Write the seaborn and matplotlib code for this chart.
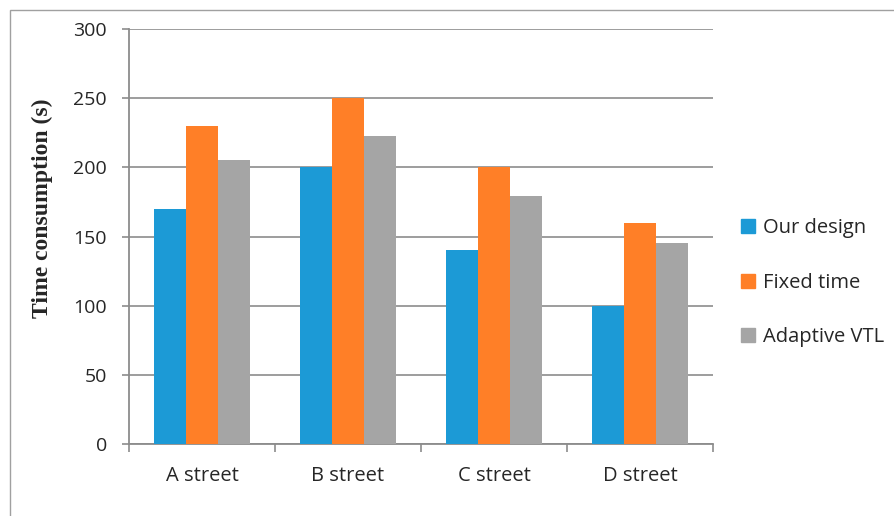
import pandas as pd
import matplotlib.pyplot as plt
import matplotlib.patches as mpatches
import seaborn as sns

# Data
streets = ["A street", "B street", "C street", "D street"]
our_design = [170, 200, 140, 100]
fixed_time = [230, 250, 200, 160]
adaptive_vtl = [205, 223, 179, 145]
series_names = ["Our design", "Fixed time", "Adaptive VTL"]
colors = ["#1C9AD6", "#FF7F27", "#A5A5A5"]

df = pd.DataFrame({
    "Street": streets * 3,
    "Method": [series_names[0]] * 4 + [series_names[1]] * 4 + [series_names[2]] * 4,
    "Time": our_design + fixed_time + adaptive_vtl,
})

sns.set_style("white")
plt.rcParams["font.family"] = ["Open Sans", "DejaVu Sans"]

fig = plt.figure(figsize=(8.94, 5.16), dpi=100)
ax = fig.add_axes([0.1443, 0.1395, 0.6532, 0.8043])

sns.barplot(data=df, x="Street", y="Time", hue="Method", palette=colors,
            width=0.66, saturation=1, edgecolor="none", ax=ax, zorder=3)

ax.set_ylim(0, 300)
ax.set_xlim(-0.5, 3.5)
ax.set_yticks(range(0, 301, 50))
ax.yaxis.grid(True, color="#8C8C8C", linewidth=1.2, zorder=0)
ax.set_axisbelow(True)

for s in ["top", "right"]:
    ax.spines[s].set_visible(False)
for s in ["left", "bottom"]:
    ax.spines[s].set_color("#8C8C8C")
    ax.spines[s].set_linewidth(1.3)

ax.tick_params(axis="y", which="major", length=5, color="#8C8C8C", width=1.2,
               labelsize=14, pad=11, left=True)
ax.tick_params(axis="x", which="major", length=0, labelsize=14.5, pad=16)
ax.set_xticks([-0.5, 0.5, 1.5, 2.5, 3.5], minor=True)
ax.tick_params(axis="x", which="minor", length=6, color="#8C8C8C", width=1.2,
               bottom=True)

ax.set_xlabel("")
ax.set_ylabel("Time consumption (s)", family="Liberation Serif",
              fontweight="bold", fontsize=17)
ax.yaxis.set_label_coords(-0.131, 0.569)

handles = [mpatches.Patch(color=c, label=n) for c, n in zip(colors, series_names)]
ax.get_legend().remove()
fig.legend(handles=handles, loc="center left", bbox_to_anchor=(0.809, 0.452),
           frameon=False, fontsize=14.5, labelspacing=1.72, handlelength=0.7,
           handleheight=0.7, handletextpad=0.35)

# thin frame around the chart area
fig.patches.append(mpatches.Rectangle((0.011, -0.1), 1.1, 1.081, transform=fig.transFigure,
                                      fill=False, edgecolor="#A0A0A0", linewidth=1))

fig.savefig("out.png", dpi=100)
